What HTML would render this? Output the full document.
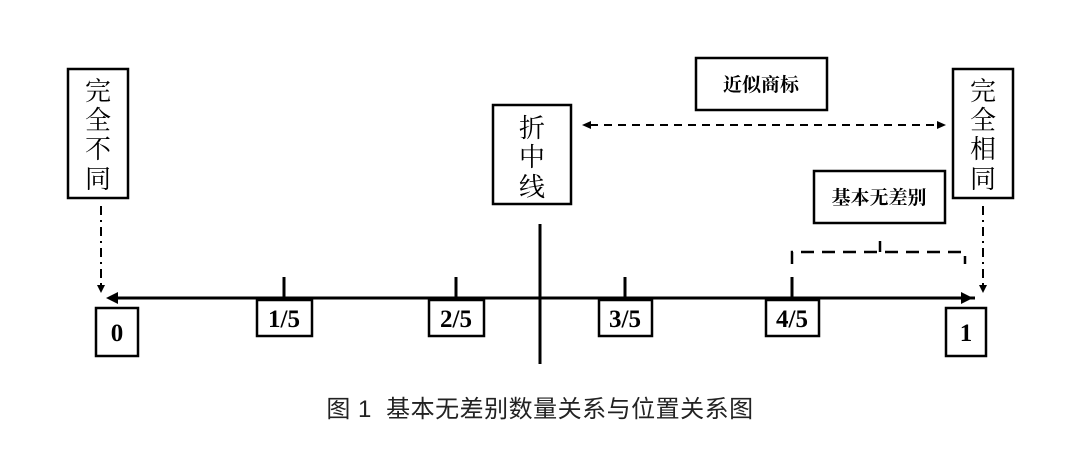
<!DOCTYPE html>
<html><head><meta charset="utf-8"><style>
html,body{margin:0;padding:0;background:#fff;}
body{width:1080px;height:456px;overflow:hidden;position:relative;}
svg{position:absolute;left:0;top:0;}
</style></head><body>
<svg width="1080" height="456" viewBox="0 0 1080 456" xmlns="http://www.w3.org/2000/svg">
<g fill="#fff" stroke="#000" stroke-width="2.5">
<rect x="68" y="69" width="60" height="129"/>
<rect x="953" y="69" width="60" height="129"/>
<rect x="493" y="105" width="78" height="99"/>
<rect x="696" y="58" width="131" height="52"/>
<rect x="814" y="171" width="131" height="52"/>
<rect x="96" y="308" width="42" height="48"/>
<rect x="946" y="308" width="40" height="48"/>
<rect x="257" y="300" width="55" height="36"/>
<rect x="429" y="300" width="55" height="36"/>
<rect x="599" y="300" width="53" height="36"/>
<rect x="766" y="300" width="53" height="36"/>
</g>
<g font-family="Liberation Serif, Noto Serif CJK SC, serif" font-size="26" text-anchor="middle" fill="#000">
<text x="98" y="100">完</text><text x="98" y="129">全</text><text x="98" y="158">不</text><text x="98" y="188">同</text>
<text x="983" y="100">完</text><text x="983" y="129">全</text><text x="983" y="158">相</text><text x="983" y="188">同</text>
<text x="532" y="137">折</text><text x="532" y="166">中</text><text x="532" y="196">线</text>
</g>
<g font-family="Liberation Serif, Noto Serif CJK SC, serif" font-size="19" font-weight="bold" text-anchor="middle" fill="#000">
<text x="761" y="91">近似商标</text>
<text x="879" y="204">基本无差别</text>
</g>
<g font-family="Liberation Serif, serif" font-size="25" font-weight="bold" text-anchor="middle" fill="#000">
<text x="117" y="341">0</text><text x="966" y="341">1</text>
<text x="284" y="327">1/5</text><text x="456" y="327">2/5</text>
<text x="625" y="327">3/5</text><text x="792" y="327">4/5</text>
</g>
<g stroke="#000" stroke-width="3">
<line x1="110" y1="298" x2="975" y2="298"/>
<line x1="540" y1="224" x2="540" y2="364"/>
<line x1="284" y1="277" x2="284" y2="298"/>
<line x1="456" y1="277" x2="456" y2="298"/>
<line x1="625" y1="277" x2="625" y2="298"/>
<line x1="792" y1="277" x2="792" y2="298"/>
</g>
<polygon points="106,298 118,292 118,304" fill="#000"/>
<polygon points="973,298 961,292 961,304" fill="#000"/>
<g stroke="#000" stroke-width="2" stroke-dasharray="8,6" fill="none">
<line x1="590" y1="125" x2="940" y2="125"/>
</g>
<polygon points="582,125 591,121 591,129" fill="#000"/>
<polygon points="946,125 937,121 937,129" fill="#000"/>
<g stroke="#000" stroke-width="2.5" fill="none" stroke-dasharray="13,8">
<polyline points="792,264 792,252 965,252 965,264"/>
</g>
<line x1="880" y1="241" x2="880" y2="252" stroke="#000" stroke-width="2.5"/>
<g stroke="#000" stroke-width="2" stroke-dasharray="9,5,2,5" fill="none">
<line x1="101" y1="206" x2="101" y2="285"/>
<line x1="983" y1="206" x2="983" y2="285"/>
</g>
<polygon points="101,293 97,285 105,285" fill="#000"/>
<polygon points="983,293 979,285 987,285" fill="#000"/>
<text x="540" y="417" text-anchor="middle" font-family="Liberation Sans, Noto Sans CJK SC, sans-serif" font-size="24" letter-spacing="0.5" fill="#222">图 1&#160;&#160;基本无差别数量关系与位置关系图</text>
</svg>
</body></html>
